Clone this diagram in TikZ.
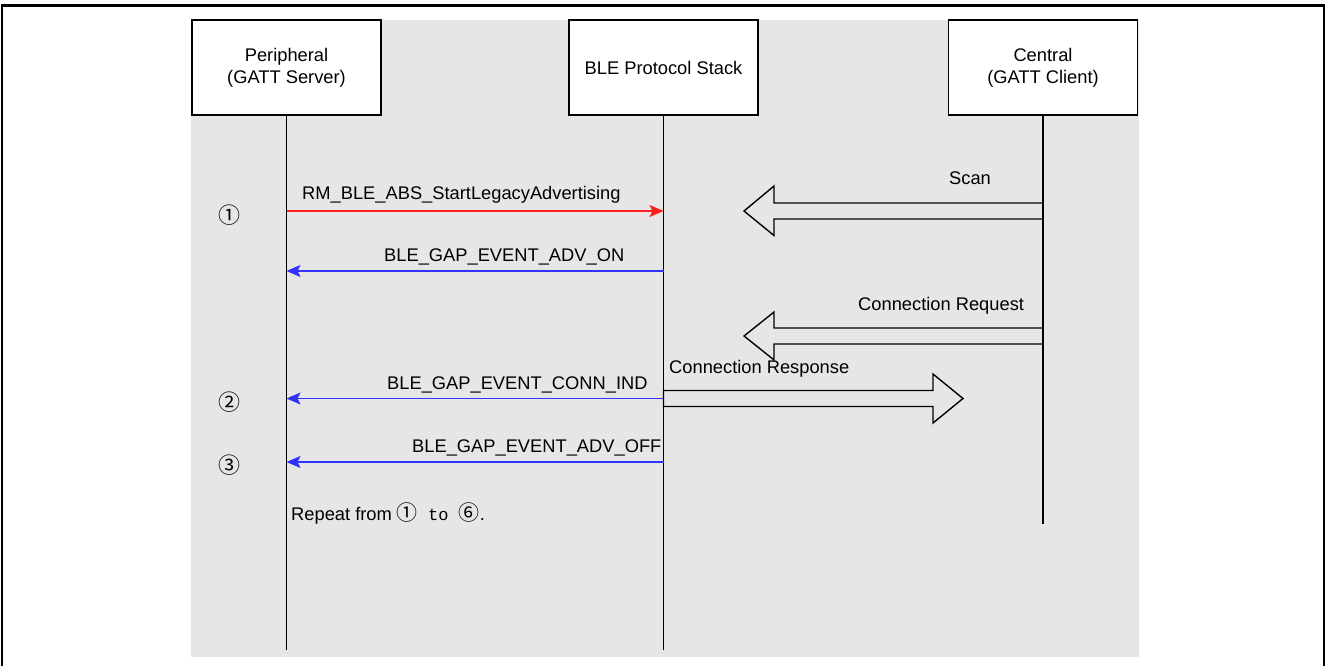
\documentclass[tikz,border=0pt]{standalone}
\usepackage{fontspec}
\setmainfont{Liberation Sans}
\newfontfamily\circfont{Noto Sans CJK SC}
\newfontfamily\tofont{Liberation Mono}
\usetikzlibrary{arrows.meta}
\definecolor{bggray}{RGB}{230,230,230}
\definecolor{msgred}{RGB}{255,30,30}
\definecolor{msgblue}{RGB}{50,50,255}
\begin{document}
\begin{tikzpicture}[x=1pt,y=-1pt,
  font=\fontsize{18.3}{22}\selectfont,
  actor/.style={draw=black,line width=1.3pt,fill=white,minimum width=189pt,minimum height=95pt,align=center,inner sep=0pt},
  life/.style={draw=black,line width=1.3pt},
  call/.style={draw=msgred,line width=1.4pt,-{Stealth[length=14pt,width=12pt,inset=3pt]}},
  reply/.style={draw=msgblue,line width=1.4pt,-{Stealth[length=14pt,width=12pt,inset=3pt]}},
  block/.style={draw=black,line width=1.4pt,line join=miter},
  lbl/.style={anchor=base west,inner sep=0pt},
  circ/.style={font=\fontsize{22}{24}\selectfont\circfont,inner sep=0pt}]
\useasboundingbox (0,0) rectangle (1328,666);
% outer frame
\draw[line width=2.5pt] (2,680) -- (2,5.5) -- (1324,5.5) -- (1324,680);
% background
\fill[bggray] (191,20) rectangle (1139,657);
% actors
\node[actor] (per) at (286.5,67.5) {Peripheral\\(GATT Server)};
\node[actor] (ble) at (663.5,67.5) {BLE Protocol Stack};
\node[actor] (cen) at (1043,67.5) {Central\\(GATT Client)};
% lifeline ends
\coordinate (perE) at (286.5,650);
\coordinate (bleE) at (663.5,650);
\coordinate (cenE) at (1043,524);
\draw[life] (per.south) -- (perE);
\draw[life] (ble.south) -- (bleE);
\draw[life] (cen.south) -- (cenE);
% message points
\coordinate (p1) at (286.5,211); \coordinate (b1) at (663.5,211);
\coordinate (p2) at (286.5,271); \coordinate (b2) at (663.5,271);
\coordinate (p3) at (286.5,398.5); \coordinate (b3) at (663.5,398.5);
\coordinate (p4) at (286.5,462); \coordinate (b4) at (663.5,462);
\draw[call] (p1) -- (b1);
\draw[reply] (b2) -- (p2);
\draw[reply] (b3) -- (p3);
\draw[reply] (b4) -- (p4);
\node[lbl] (t1) at (302,200) {RM\_BLE\_ABS\_StartLegacyAdvertising};
\node[lbl] (t2) at (384,261) {BLE\_GAP\_EVENT\_ADV\_ON};
\node[lbl] (t3) at (387,389.3) {BLE\_GAP\_EVENT\_CONN\_IND};
\node[lbl] (t4) at (412,452.7) {BLE\_GAP\_EVENT\_ADV\_OFF};
% block arrows
\coordinate (s0) at (1043,211);
\draw[block] (s0) ++(0,-8) -- (774,203) -- (774,186) -- (744,211) -- (774,235.5) -- (774,219) -- ++(269,0) -- cycle;
\node[lbl] (ts) at (949,185) {Scan};
\coordinate (r0) at (1043,336);
\draw[block] (r0) ++(0,-8) -- (774,328) -- (774,312) -- (744,336) -- (774,360) -- (774,344) -- ++(269,0) -- cycle;
\node[lbl] (tr) at (858,310) {Connection Request};
\node[lbl] (tc) at (669,373.3) {Connection Response};
\coordinate (q0) at (663.5,398.5);
\draw[block] (q0) ++(0,-8) -- (933,390.5) -- (933,374) -- (963,398.5) -- (933,423) -- (933,406.5) -- (663.5,406.5) -- cycle;
% step numbers
\node[circ] (n1) at (229,215) {①};
\node[circ] (n2) at (229,402) {②};
\node[circ] (n3) at (229,465.5) {③};
\node[lbl] (rep) at (291,520) {Repeat from {\circfont\fontsize{21}{22}\selectfont ①}{\tofont\fontsize{17}{20}\selectfont\ to\ }{\circfont\fontsize{21}{22}\selectfont ⑥}.};
\end{tikzpicture}
\end{document}
